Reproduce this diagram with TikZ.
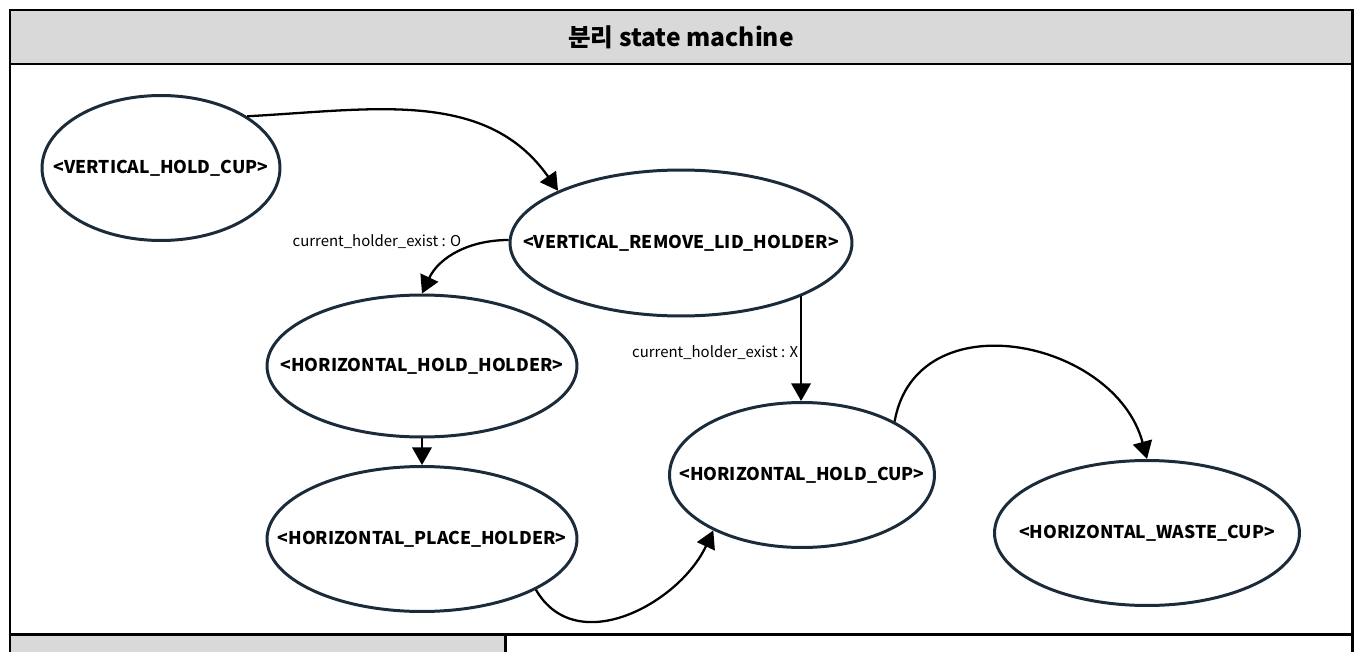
\documentclass[tikz,border=0pt]{standalone}
\usepackage{fontspec}
\setmainfont{Noto Sans CJK KR}
\usetikzlibrary{arrows.meta, shapes.geometric}

\definecolor{statenavy}{HTML}{1B2B3A}
\definecolor{titlegray}{HTML}{D9D9D9}

\begin{document}
\begin{tikzpicture}[
    x=0.02cm, y=-0.02cm,
    state/.style={
        ellipse,
        draw=statenavy,
        line width=1.7pt,
        inner ysep=0pt,
        inner xsep=-4cm,
        align=center,
        minimum height=2.9cm,
        font=\bfseries\fontsize{10}{12}\selectfont
    },
    arrow/.style={-{Triangle[length=10pt,width=11pt]}, line width=1.3pt},
    cond/.style={font=\fontsize{8.5}{10}\selectfont, inner sep=1pt},
    frame/.style={draw=black, line width=1.7pt}
]
\clip (0,0) rectangle (1362,652);

% ------------------------
% Frame and title
% ------------------------
\draw[frame, fill=titlegray] (10,10) rectangle (1352,64);
\draw[frame] (10,64) rectangle (1352,634);
\draw[frame, fill=titlegray] (10,634) rectangle (505,700);
\draw[frame] (505,634) rectangle (1352,700);

\node[font=\bfseries\fontsize{14}{16}\selectfont] (title) at (681,37)
{분리 state machine};

% ------------------------
% States
% ------------------------
\node[state, minimum width=4.76cm] (vhc) at (161,168)
{<VERTICAL\_HOLD\_CUP>};

\node[state, minimum width=6.84cm, minimum height=2.92cm] (vrlh) at (681,243)
{<VERTICAL\_REMOVE\_LID\_HOLDER>};

\node[state, minimum width=6.2cm, minimum height=2.84cm] (hhh) at (422,366)
{<HORIZONTAL\_HOLD\_HOLDER>};

\node[state, minimum width=6.2cm] (hph) at (422,539)
{<HORIZONTAL\_PLACE\_HOLDER>};

\node[state, minimum width=5.3cm] (hhc) at (802,475)
{<HORIZONTAL\_HOLD\_CUP>};

\node[state, minimum width=6.1cm] (hwc) at (1147,533)
{<HORIZONTAL\_WASTE\_CUP>};

% ------------------------
% Transitions
% ------------------------
\node[cond] (lblO) at (377,242) {current\_holder\_exist : O};

\draw[arrow] (vhc.31) to[out=3, in=125] (vrlh.157);
\draw[arrow] (vrlh.179) to[out=180, in=65] (hhh.north);
\draw[arrow] (vrlh.-24) -- node[cond, left, yshift=-2pt] (lblX) {current\_holder\_exist : X}
    (vrlh.-24 |- hhc.north);
\draw[arrow] (hhh.south) -- (hph.north);
\draw[arrow] (hph.-24) to[out=-60, in=-115, looseness=1.1] (hhc.-148);
\draw[arrow] (hhc.30) to[out=80, in=105, looseness=1.25] (hwc.north);

\end{tikzpicture}
\end{document}
